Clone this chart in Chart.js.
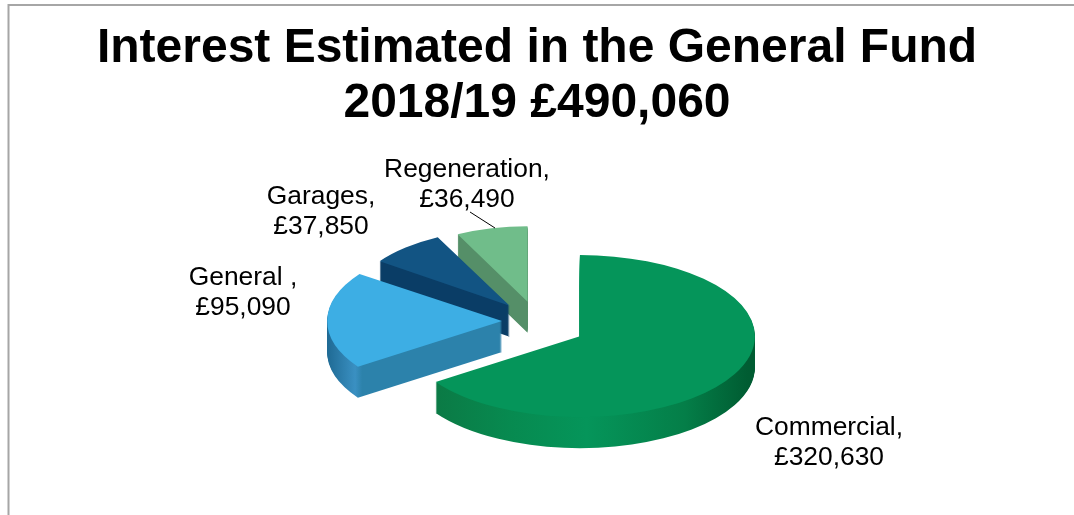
<!DOCTYPE html>
<html><head><meta charset="utf-8">
<style>html,body{margin:0;padding:0;background:#fff}canvas{display:block}</style>
<script src="https://cdn.jsdelivr.net/npm/chart.js@4"></script>
</head><body><canvas id="c" width="1074" height="515"></canvas>
<script>
const categories = ['Commercial', 'General ', 'Garages', 'Regeneration'];
const values = [320630, 95090, 37850, 36490];
const titleLines = ['Interest Estimated in the General Fund', '2018/19 £490,060'];
const labelCentres = [[829, 428], [243, 278], [321, 197], [467, 170]];
const explode = [194, 140, 184, 184];
const topColours = ['#05955A', '#3DAEE4', '#125483', '#70BD8A'];
const sideStops = [
  [[0.088, '#0B7A45'], [0.3, '#078A50'], [0.52, '#05955A'], [0.8, '#047E48'], [0.98, '#005C32']],
  [[0, '#1F6A94'], [0.08, '#3A90C2'], [0.1, '#2C82AB'], [1, '#2C82AB']],
  [[0, '#0A3D66'], [1, '#0A3D66']],
  [[0, '#558F68'], [1, '#558F68']]
];
const RADIUS = 175, TILT = 0.463, DEPTH = 31, BACK_SHRINK_X = 0.117, BACK_SHRINK_Y = 0.07, FRONT_DROP = 10;
const fmt = v => '£' + v.toLocaleString('en-GB');

// Draws one arc element flattened and exploded; the explode distance comes from its offset option.
function drawSlice(ctx, arc, shift, fill) {
  const saved = arc.options;
  const mid = (arc.startAngle + arc.endAngle) / 2;
  const t = Math.sin(mid);
  const back = Math.min(0, t), front = Math.max(0, t);
  const d = saved.offset / 4;
  arc.options = Object.assign({}, saved, { offset: 0, backgroundColor: fill || saved.backgroundColor });
  ctx.save();
  ctx.translate(arc.x, arc.y + shift + FRONT_DROP * front);
  ctx.scale(1 + BACK_SHRINK_X * back, TILT * (1 + BACK_SHRINK_Y * back));
  ctx.translate(Math.cos(mid) * d, t * d);
  ctx.translate(-arc.x, -arc.y);
  arc.draw(ctx);
  ctx.restore();
  arc.options = saved;
}

const pie3d = {
  id: 'pie3d',
  beforeDraw(chart) {
    const ctx = chart.ctx;
    ctx.save();
    ctx.strokeStyle = '#A6A6A6';
    ctx.lineWidth = 2;
    ctx.beginPath();
    ctx.moveTo(1074, 5); ctx.lineTo(8.5, 5); ctx.lineTo(8.5, 515);
    ctx.stroke();
    ctx.restore();
  },
  beforeDatasetsDraw(chart) {
    const ctx = chart.ctx;
    const arcs = chart.getDatasetMeta(0).data;
    for (let i = arcs.length - 1; i >= 0; i--) {
      const arc = arcs[i];
      const g = ctx.createLinearGradient(arc.x - RADIUS, 0, arc.x + RADIUS, 0);
      sideStops[i].forEach(st => g.addColorStop(st[0], st[1]));
      for (let d = DEPTH; d >= 1; d--) drawSlice(ctx, arc, d, g);
    }
    for (let i = arcs.length - 1; i >= 0; i--) drawSlice(ctx, arcs[i], 0);
    return false;
  },
  afterDraw(chart) {
    const ctx = chart.ctx;
    ctx.save();
    ctx.fillStyle = '#000';
    ctx.font = '26.4px "Liberation Sans", Arial, sans-serif';
    ctx.textAlign = 'center';
    ctx.textBaseline = 'middle';
    categories.forEach((c, i) => {
      const [x, y] = labelCentres[i];
      ctx.fillText(c + ',', x, y);
      ctx.fillText(fmt(values[i]), x, y + 30);
    });
    ctx.strokeStyle = '#000';
    ctx.lineWidth = 1;
    ctx.beginPath();
    ctx.moveTo(470, 212); ctx.lineTo(495, 228);
    ctx.stroke();
    ctx.restore();
  }
};

new Chart(document.getElementById('c'), {
  type: 'pie',
  data: {
    labels: categories,
    datasets: [{ data: values, backgroundColor: topColours, offset: explode, borderWidth: 0 }]
  },
  options: {
    responsive: false,
    animation: false,
    events: [],
    radius: RADIUS,
    layout: { padding: { top: 0, bottom: 4 } },
    plugins: {
      legend: { display: false },
      tooltip: { enabled: false },
      title: {
        display: true,
        text: titleLines,
        color: '#000',
        font: { family: '"Liberation Sans", Arial, sans-serif', size: 48, weight: 'bold', lineHeight: 1.146 },
        padding: { top: 21, bottom: 0 }
      }
    }
  },
  plugins: [pie3d]
});
</script></body></html>
